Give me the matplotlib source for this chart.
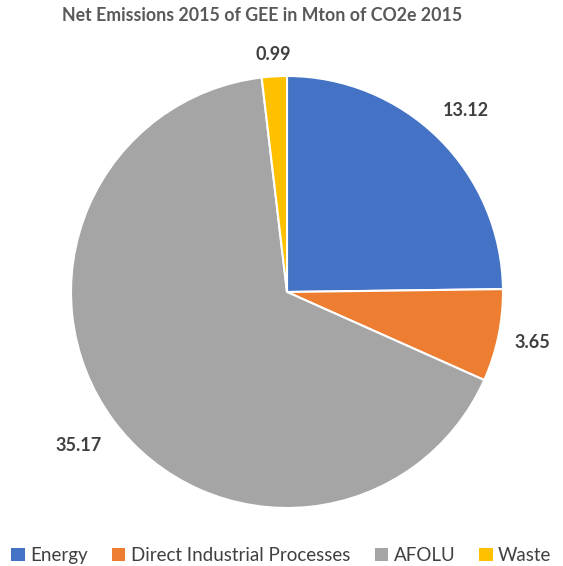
import numpy as np
import matplotlib.pyplot as plt
from matplotlib.patches import Patch

plt.rcParams['font.family'] = ['Lato', 'DejaVu Sans']

categories = ['Energy', 'Direct Industrial Processes', 'AFOLU', 'Waste']
values = [13.12, 3.65, 35.17, 0.99]
colors = ['#4472C4', '#ED7D31', '#A5A5A5', '#FFC000']
label_dist = [1.18, 1.16, 1.2, 1.1]

fig = plt.figure(figsize=(5.63, 5.66), dpi=100)
ax = fig.add_axes([71 / 563, 58 / 566, 432 / 563, 432 / 566])

wedges, _ = ax.pie(values, colors=colors, startangle=90, counterclock=False,
                   wedgeprops=dict(edgecolor='white', linewidth=1.5))
ax.set_xlim(-1, 1)
ax.set_ylim(-1, 1)
ax.set_aspect('equal')

# value labels outside the slices
for w, v, d in zip(wedges, values, label_dist):
    ang = np.deg2rad((w.theta1 + w.theta2) / 2)
    ax.text(d * np.cos(ang), d * np.sin(ang), f'{v:.2f}', ha='center', va='center',
            fontsize=13, fontweight='bold', color='#404040')

fig.text(0.466, 0.972, 'Net Emissions 2015 of GEE in Mton of CO2e 2015', ha='center', va='center',
         fontsize=12.8, fontweight='bold', color='#595959')

handles = [Patch(facecolor=c, edgecolor='none') for c in colors]
fig.legend(handles, categories, loc='center', bbox_to_anchor=(0.5, 0.018), ncol=4, frameon=False,
           fontsize=13.5, handlelength=0.7, handleheight=0.7, handletextpad=0.3, columnspacing=1.3,
           labelcolor='#404040')

fig.savefig('out.png', dpi=100)
